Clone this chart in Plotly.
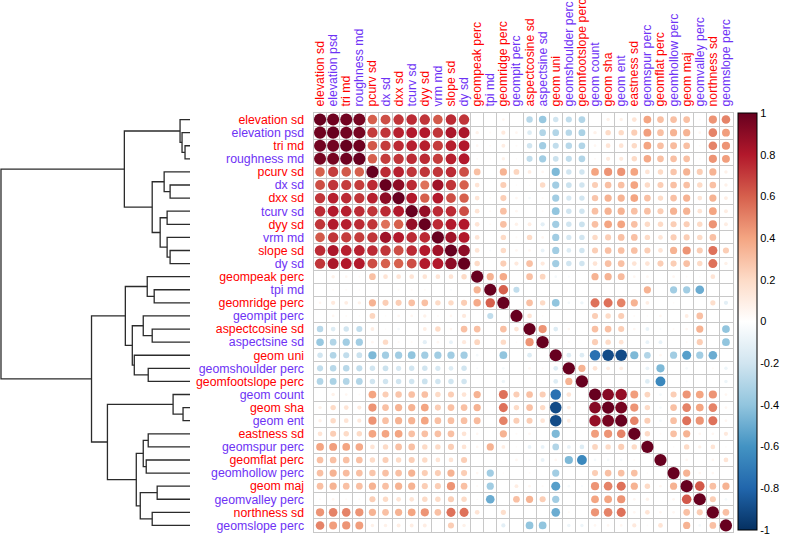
import numpy as np
import plotly.graph_objects as go

labels = ["elevation sd", "elevation psd", "tri md", "roughness md", "pcurv sd", "dx sd",
          "dxx sd", "tcurv sd", "dyy sd", "vrm md", "slope sd", "dy sd", "geompeak perc",
          "tpi md", "geomridge perc", "geompit perc", "aspectcosine sd", "aspectsine sd",
          "geom uni", "geomshoulder perc", "geomfootslope perc", "geom count", "geom sha",
          "geom ent", "eastness sd", "geomspur perc", "geomflat perc", "geomhollow perc",
          "geom maj", "geomvalley perc", "northness sd", "geomslope perc"]
label_groups = ["r", "b"] * 16   # r = red label, b = violet label

# upper triangle of the correlation matrix: row i holds r(i, j) for j > i
upper = [
    [0.98, 0.97, 0.96, 0.6, 0.65, 0.72, 0.75, 0.72, 0.62, 0.75, 0.72, 0, 0, 0.05, 0, -0.28, -0.38, -0.2, -0.25, -0.3, 0, 0.08, 0.08, 0.15, 0.4, 0.3, 0.3, 0.3, 0.03, 0.45, 0.5],
    [0.97, 0.96, 0.7, 0.72, 0.78, 0.8, 0.8, 0.72, 0.82, 0.82, 0.08, 0.03, 0.12, 0.05, -0.15, -0.3, -0.3, -0.28, -0.32, 0.08, 0.2, 0.2, 0.25, 0.42, 0.3, 0.35, 0.35, 0.05, 0.5, 0.42],
    [0.98, 0.62, 0.7, 0.75, 0.78, 0.78, 0.7, 0.78, 0.8, 0.05, 0.03, 0.1, 0.03, -0.2, -0.35, -0.25, -0.28, -0.3, 0.05, 0.15, 0.15, 0.2, 0.4, 0.3, 0.32, 0.3, 0.03, 0.5, 0.45],
    [0.6, 0.7, 0.72, 0.75, 0.75, 0.7, 0.78, 0.8, 0.03, 0.02, 0.08, 0.02, -0.25, -0.35, -0.22, -0.25, -0.3, 0.03, 0.12, 0.12, 0.2, 0.38, 0.3, 0.3, 0.3, 0.03, 0.45, 0.42],
    [0.75, 0.78, 0.72, 0.72, 0.72, 0.75, 0.65, 0.3, 0, 0.35, 0.22, 0.1, 0.05, -0.45, -0.2, -0.2, 0.4, 0.45, 0.45, 0.4, 0.15, 0.2, 0.28, 0.35, 0.25, 0.35, 0.08],
    [0.9, 0.75, 0.55, 0.85, 0.72, 0.6, 0.15, 0, 0.25, 0.02, 0.02, 0.2, -0.35, -0.22, -0.2, 0.25, 0.3, 0.3, 0.4, 0.2, 0.25, 0.3, 0.3, 0.2, 0.3, 0.08],
    [0.8, 0.6, 0.8, 0.65, 0.6, 0.15, 0.03, 0.25, 0.05, -0.05, 0.03, -0.35, -0.18, -0.2, 0.28, 0.35, 0.35, 0.4, 0.3, 0.2, 0.3, 0.35, 0.15, 0.35, 0.1],
    [0.88, 0.75, 0.75, 0.65, 0.15, 0.03, 0.3, 0.05, 0, 0.03, -0.4, -0.2, -0.2, 0.3, 0.35, 0.35, 0.3, 0.3, 0.25, 0.35, 0.35, 0.15, 0.4, 0.1],
    [0.75, 0.8, 0.8, 0.15, 0.03, 0.3, 0.08, 0.1, -0.12, -0.35, -0.2, -0.22, 0.3, 0.4, 0.4, 0.3, 0.2, 0.2, 0.25, 0.25, 0.2, 0.45, 0.1],
    [0.85, 0.8, 0.15, 0, 0.2, 0.03, 0.2, 0.05, -0.35, -0.18, -0.2, 0.2, 0.25, 0.3, 0.3, 0.2, 0.15, 0.25, 0.25, 0.2, 0.3, 0],
    [0.9, 0.15, -0.03, 0.2, 0.05, 0.05, -0.1, -0.35, -0.15, -0.2, 0.25, 0.3, 0.3, 0.3, 0.25, 0.15, 0.35, 0.45, 0.25, 0.55, 0.25],
    [0.2, 0, 0.25, 0.12, 0.3, 0.12, -0.35, -0.2, -0.2, 0.15, 0.3, 0.3, 0.15, 0.15, 0.25, 0.25, 0.3, 0.2, 0.55, 0.08],
    [0.35, 0.38, 0, 0.3, 0.22, -0.05, -0.03, 0, 0.35, 0.35, 0.32, 0.05, 0.05, 0, 0.05, 0.03, 0.02, 0.15, 0],
    [0.6, -0.25, 0, 0, 0, 0, 0, 0, 0, 0, 0, 0.35, 0, -0.35, -0.35, -0.5, 0, 0],
    [0, 0.3, 0.2, -0.4, -0.05, -0.08, 0.55, 0.55, 0.5, 0.35, 0.1, 0, 0.02, 0, 0, 0.18, -0.12],
    [0.15, 0.02, 0, 0, 0, 0.25, 0.2, 0.25, 0.03, 0.02, 0.05, 0, 0.1, 0.3, 0, 0],
    [0.45, -0.15, 0.05, 0, 0.3, 0.3, 0.25, 0.05, -0.1, -0.03, 0.03, 0.05, 0.35, 0, -0.4],
    [0, 0.03, 0, 0.25, 0.2, 0.15, 0, -0.1, -0.1, 0, 0.03, 0.25, 0, -0.4],
    [-0.15, -0.15, -0.75, -0.9, -0.9, -0.45, -0.3, 0.05, -0.35, -0.55, -0.35, -0.5, 0],
    [0.35, 0.15, 0.1, 0.1, 0, -0.1, -0.45, 0, -0.05, 0, 0.03, -0.08],
    [0, 0, 0, 0, -0.15, -0.65, 0, -0.03, 0, 0, -0.08],
    [0.92, 0.88, 0.42, 0.22, -0.05, 0.25, 0.45, 0.4, 0.45, 0.05],
    [0.96, 0.45, 0.2, -0.05, 0.3, 0.5, 0.4, 0.5, 0.05],
    [0.5, 0.25, -0.05, 0.3, 0.55, 0.45, 0.55, 0.05],
    [0.2, 0.03, 0.3, 0.35, 0.05, 0.05, 0.12],
    [0, 0.02, 0.2, 0.08, 0.15, 0.02],
    [0, 0.05, 0, 0.05, 0.15],
    [0.35, 0.05, 0.05, 0],
    [0.62, 0.3, 0.35],
    [0.25, -0.05],
    [0.3],
]

# hierarchical clustering merges: (child a, child b, height); ids >= 32 are earlier merges
merges = [
    (2, 3, 5), (1, 32, 8), (0, 33, 10),
    (5, 6, 20), (4, 35, 26), (7, 8, 23), (10, 11, 20), (9, 38, 23), (37, 39, 30),
    (36, 40, 38), (34, 41, 66),
    (13, 14, 36), (12, 43, 43), (16, 17, 38), (15, 45, 47), (19, 20, 42), (18, 47, 56),
    (46, 48, 58), (44, 49, 65),
    (22, 23, 7), (21, 51, 17), (24, 25, 42), (26, 27, 44), (53, 54, 47), (28, 29, 33),
    (30, 31, 38), (56, 57, 50), (55, 58, 54), (52, 59, 83), (50, 60, 99),
    (42, 61, 190),
]

cbar_vals = [-1, -0.8, -0.6, -0.4, -0.2, 0, 0.2, 0.4, 0.6, 0.8, 1]
cbar_text = ["-1", "-0.8", "-0.6", "-0.4", "-0.2", "0", "0.2", "0.4", "0.6", "0.8", "1"]

RED = "#FF0000"
VIOLET = "#6E32F5"
GRID = "#C8C8C8"
FONT = "Liberation Sans, Arial, sans-serif"

n = len(labels)
C = np.eye(n)
for i, row in enumerate(upper):
    for k, v in enumerate(row):
        j = i + 1 + k
        C[i, j] = v
        C[j, i] = v

xs, ys, vals = [], [], []
for i in range(n):
    for j in range(n):
        xs.append(j)
        ys.append(i)
        vals.append(C[i, j])
vals = np.array(vals)
sizes = 12.2 * np.sqrt(np.abs(vals))

colorscale = [
    [0.0, "#053061"], [0.1, "#2166AC"], [0.2, "#4393C3"], [0.3, "#92C5DE"],
    [0.4, "#D1E5F0"], [0.5, "#FFFFFF"], [0.6, "#FDDBC7"], [0.7, "#F4A582"],
    [0.8, "#D6604D"], [0.9, "#B2182B"], [1.0, "#67001F"],
]

fig = go.Figure()

# dendrogram
pos = {i: (float(i), 0.0) for i in range(n)}
dx, dy = [], []
for k, (a, b, h) in enumerate(merges):
    ya, ha = pos[a]
    yb, hb = pos[b]
    dx += [ha, h, h, hb, None]
    dy += [ya, ya, yb, yb, None]
    pos[n + k] = ((ya + yb) / 2.0, h)

fig.add_trace(go.Scatter(x=dx, y=dy, mode="lines", xaxis="x2", yaxis="y2",
                         line=dict(color="#2b2b2b", width=1.3), hoverinfo="skip",
                         cliponaxis=False))

fig.add_trace(go.Scatter(
    x=xs, y=ys, mode="markers",
    marker=dict(size=sizes, color=vals, colorscale=colorscale, cmin=-1, cmax=1,
                opacity=1, line=dict(width=0), showscale=True,
                colorbar=dict(x=738 / 787, xanchor="left", y=1, yanchor="top",
                              len=417 / 419, lenmode="fraction", thickness=19,
                              outlinewidth=1, outlinecolor="#000000",
                              tickvals=cbar_vals, ticktext=cbar_text, ticks="",
                              tickfont=dict(family=FONT, size=11, color="#000"),
                              xpad=0, ypad=0)),
    hovertemplate="%{x},%{y}: %{marker.color:.2f}<extra></extra>",
))


def colored(lbls):
    out = []
    for t, g in zip(lbls, label_groups):
        col = RED if g == "r" else VIOLET
        out.append('<span style="color:%s">%s</span>' % (col, t))
    return out


ticktext = colored(labels)
minor_vals = [k + 0.5 for k in range(n - 1)]

fig.update_layout(
    width=787, height=539,
    margin=dict(l=0, r=0, t=113, b=7, autoexpand=False),
    plot_bgcolor="white", paper_bgcolor="white", showlegend=False,
    xaxis=dict(domain=[313.5 / 787, 732.5 / 787], range=[-0.5, n - 0.5], side="top",
               tickmode="array", tickvals=list(range(n)), ticktext=ticktext, tickangle=-90,
               showgrid=False, zeroline=False, ticks="", showline=True, mirror=True,
               linecolor=GRID, linewidth=1, anchor="y", automargin=False,
               minor=dict(tickmode="array", tickvals=minor_vals, showgrid=True,
                          gridcolor=GRID, gridwidth=1, ticks=""),
               tickfont=dict(family=FONT, size=12.3), ticklabelstandoff=3),
    yaxis=dict(domain=[0, 1], range=[n - 0.5, -0.5], tickmode="array",
               tickvals=list(range(n)), ticktext=ticktext, showgrid=False, zeroline=False,
               ticks="", showline=True, mirror=True, linecolor=GRID, linewidth=1,
               anchor="x", automargin=False,
               minor=dict(tickmode="array", tickvals=minor_vals, showgrid=True,
                          gridcolor=GRID, gridwidth=1, ticks=""),
               tickfont=dict(family=FONT, size=12.3), ticklabelstandoff=6),
    xaxis2=dict(domain=[0, 190 / 787], range=[191, 0], visible=False, anchor="y2"),
    yaxis2=dict(domain=[0, 1], range=[n - 0.5, -0.5], visible=False, anchor="x2"),
)

fig.write_html("out.html", config={"displayModeBar": False},
               post_script="document.body.style.margin='0';")
